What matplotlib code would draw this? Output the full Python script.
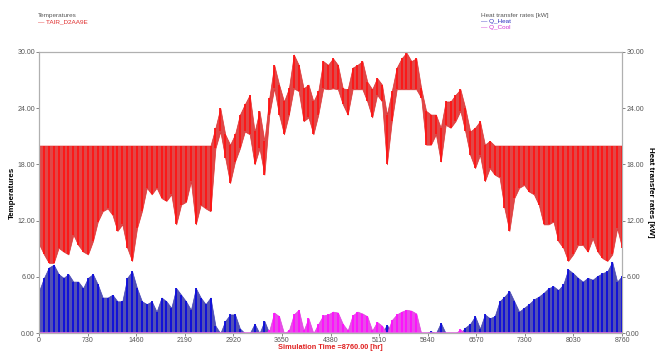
import numpy as np
import matplotlib.pyplot as plt

plt.rcParams['font.family'] = ['Liberation Sans', 'DejaVu Sans']

# TRNSYS online plot, values read per ~73 h bin (120 bins over the year)
t_low = [
    9.5, 8.4, 7.5, 7.5, 9.1, 8.7, 8.4, 10.5, 9.4, 8.7,
    8.4, 9.8, 11.9, 13.0, 13.3, 12.6, 10.9, 11.6, 9.1, 7.7,
    11.2, 13.0, 15.5, 14.8, 15.5, 14.4, 14.1, 14.8, 11.6, 13.7,
    14.0, 16.2, 11.6, 13.7, 13.3, 13.0, 19.7, 21.5, 18.7, 16.0,
    18.3, 19.7, 21.5, 21.2, 18.0, 19.7, 16.9, 23.3, 26.1, 23.3,
    21.2, 23.3, 26.1, 25.8, 22.6, 23.0, 21.2, 23.3, 26.1, 26.0,
    26.1, 26.0, 24.4, 23.3, 26.0, 26.0, 26.0, 24.7, 23.0, 25.4,
    24.7, 18.0, 22.6, 26.0, 26.0, 26.0, 26.0, 26.0, 25.1, 20.1,
    20.1, 21.2, 18.3, 22.2, 21.9, 22.6, 23.7, 21.5, 19.0, 17.6,
    19.0, 16.2, 17.6, 16.9, 16.6, 13.3, 10.9, 14.4, 15.5, 15.8,
    15.1, 14.8, 13.7, 11.6, 11.6, 11.9, 9.8, 9.1, 7.7, 8.4,
    9.4, 9.4, 8.7, 10.1, 8.7, 8.0, 7.7, 8.4, 11.2, 9.1,
]
t_high = [
    20.0, 20.0, 20.0, 20.0, 20.0, 20.0, 20.0, 20.0, 20.0, 20.0,
    20.0, 20.0, 20.0, 20.0, 20.0, 20.0, 20.0, 20.0, 20.0, 20.0,
    20.0, 20.0, 20.0, 20.0, 20.0, 20.0, 20.0, 20.0, 20.0, 20.0,
    20.0, 20.0, 20.0, 20.0, 20.0, 20.0, 21.9, 24.0, 21.2, 20.1,
    21.2, 23.3, 24.4, 25.4, 21.5, 23.7, 20.5, 25.1, 28.6, 26.5,
    24.7, 26.1, 29.7, 28.6, 26.1, 26.5, 24.7, 25.8, 29.0, 28.6,
    29.3, 28.6, 26.1, 26.0, 28.3, 28.6, 29.0, 26.8, 26.0, 27.2,
    26.5, 23.3, 25.8, 28.3, 29.3, 29.9, 29.0, 29.3, 26.1, 23.7,
    23.3, 23.3, 21.9, 24.7, 24.7, 25.4, 26.0, 24.0, 21.5, 21.9,
    22.6, 20.1, 20.5, 20.0, 20.0, 20.0, 20.0, 20.0, 20.0, 20.0,
    20.0, 20.0, 20.0, 20.0, 20.0, 20.0, 20.0, 20.0, 20.0, 20.0,
    20.0, 20.0, 20.0, 20.0, 20.0, 20.0, 20.0, 20.0, 20.0, 20.0,
]
q_heat = [
    4.5, 5.9, 7.0, 7.3, 6.3, 5.9, 6.3, 5.5, 5.5, 4.8,
    5.9, 6.3, 5.2, 3.8, 3.8, 4.1, 3.4, 3.4, 5.9, 6.6,
    4.8, 3.4, 3.1, 3.4, 2.3, 3.8, 3.4, 2.7, 4.8, 4.1,
    3.4, 2.5, 4.8, 3.8, 3.1, 3.8, 0.8, 0.0, 1.3, 2.0,
    2.0, 0.5, 0.0, 0.0, 1.0, 0.0, 1.3, 0.0, 0.0, 0.0,
    0.0, 0.0, 0.0, 0.0, 0.0, 0.0, 0.0, 0.0, 0.0, 0.0,
    0.0, 0.0, 0.0, 0.0, 0.0, 0.0, 0.0, 0.0, 0.0, 0.0,
    0.0, 0.9, 0.0, 0.0, 0.0, 0.0, 0.0, 0.0, 0.0, 0.0,
    0.2, 0.0, 1.1, 0.0, 0.0, 0.0, 0.0, 0.6, 1.0, 1.8,
    0.5, 2.0, 1.6, 1.8, 3.4, 3.9, 4.5, 3.4, 2.3, 2.7,
    3.1, 3.6, 3.9, 4.3, 4.8, 5.0, 4.6, 5.2, 6.8, 6.4,
    5.9, 5.5, 5.9, 5.7, 6.1, 6.4, 6.6, 7.6, 5.5, 6.1,
]
q_cool = [
    0.0, 0.0, 0.0, 0.0, 0.0, 0.0, 0.0, 0.0, 0.0, 0.0,
    0.0, 0.0, 0.0, 0.0, 0.0, 0.0, 0.0, 0.0, 0.0, 0.0,
    0.0, 0.0, 0.0, 0.0, 0.0, 0.0, 0.0, 0.0, 0.0, 0.0,
    0.0, 0.0, 0.0, 0.0, 0.0, 0.0, 0.0, 0.0, 0.0, 0.0,
    0.0, 0.0, 0.0, 0.0, 0.0, 0.0, 0.0, 0.3, 2.2, 1.8,
    0.0, 0.3, 2.0, 2.5, 0.3, 1.6, 0.0, 1.0, 1.9, 2.0,
    2.3, 2.2, 1.0, 0.3, 1.9, 2.3, 2.1, 1.8, 0.3, 1.2,
    0.8, 0.0, 1.4, 2.0, 2.3, 2.5, 2.4, 2.1, 0.0, 0.0,
    0.0, 0.0, 0.0, 0.0, 0.0, 0.0, 0.4, 0.0, 0.0, 0.0,
    0.0, 0.0, 0.0, 0.0, 0.0, 0.0, 0.0, 0.0, 0.0, 0.0,
    0.0, 0.0, 0.0, 0.0, 0.0, 0.0, 0.0, 0.0, 0.0, 0.0,
    0.0, 0.0, 0.0, 0.0, 0.0, 0.0, 0.0, 0.0, 0.0, 0.0,
]
x_ticks = [0, 730, 1460, 2190, 2920, 3650, 4380, 5110, 5840, 6570, 7300, 8030, 8760]
y_ticks = [0, 6, 12, 18, 24, 30]

hours = np.linspace(0, 8760, len(t_low))

fig = plt.figure(figsize=(6.57, 3.52), dpi=100)
ax = fig.add_axes([0.0594, 0.0534, 0.8874, 0.7996])
ax2 = ax.twinx()

# band between bin min and max, then brighter stripes for the daily comb look
ax.fill_between(hours, t_low, t_high, color='#e04848', lw=0.5, edgecolor='#e03030')
ax.vlines(hours, t_low, t_high, color='#ff1414', lw=1.3)

ax2.fill_between(hours, 0, q_heat, color='#5252b4', lw=0.5, edgecolor='#4040b8')
ax2.vlines(hours, 0, q_heat, color='#0c0cdc', lw=1.3)
ax2.fill_between(hours, 0, q_cool, color='#e84ce8', lw=0.5, edgecolor='#e040e0')
ax2.vlines(hours, 0, q_cool, color='#ff10ff', lw=1.3)
ax2.axhline(0, color='#e070e0', lw=1.2)

for a in (ax, ax2):
    a.set_xlim(0, 8760)
    a.set_ylim(0, 30)
    a.set_yticks(y_ticks)
    a.set_yticklabels([f'{v:.2f}' for v in y_ticks])
    a.tick_params(labelsize=5, colors='#555555', length=2, width=0.5, pad=1)
    for s in a.spines.values():
        s.set_color('#b0b0b0')
        s.set_linewidth(0.8)
ax.set_xticks(x_ticks)
ax.set_xticklabels([str(v) for v in x_ticks])

ax.set_xlabel('Simulation Time =8760.00 [hr]', color='#e02020', fontsize=5.3,
              fontweight='bold', labelpad=0)
ax.set_ylabel('Temperatures', fontsize=5.8, fontweight='bold', labelpad=1)
ax2.set_ylabel('Heat transfer rates [kW]', fontsize=5.8, fontweight='bold',
               rotation=270, labelpad=7)

fig.text(38 / 657, 1 - 16 / 352, 'Temperatures', fontsize=4.6, color='#555555', va='center')
fig.text(38 / 657, 1 - 22 / 352, '\u2014 TAIR_D2AA9E', fontsize=4.6, color='#e03030', va='center')
fig.text(481 / 657, 1 - 16 / 352, 'Heat transfer rates [kW]', fontsize=4.6, color='#555555', va='center')
fig.text(481 / 657, 1 - 22 / 352, '\u2014 Q_Heat', fontsize=4.6, color='#3030c0', va='center')
fig.text(481 / 657, 1 - 28 / 352, '\u2014 Q_Cool', fontsize=4.6, color='#d030d0', va='center')

fig.savefig('out.png', dpi=100)
